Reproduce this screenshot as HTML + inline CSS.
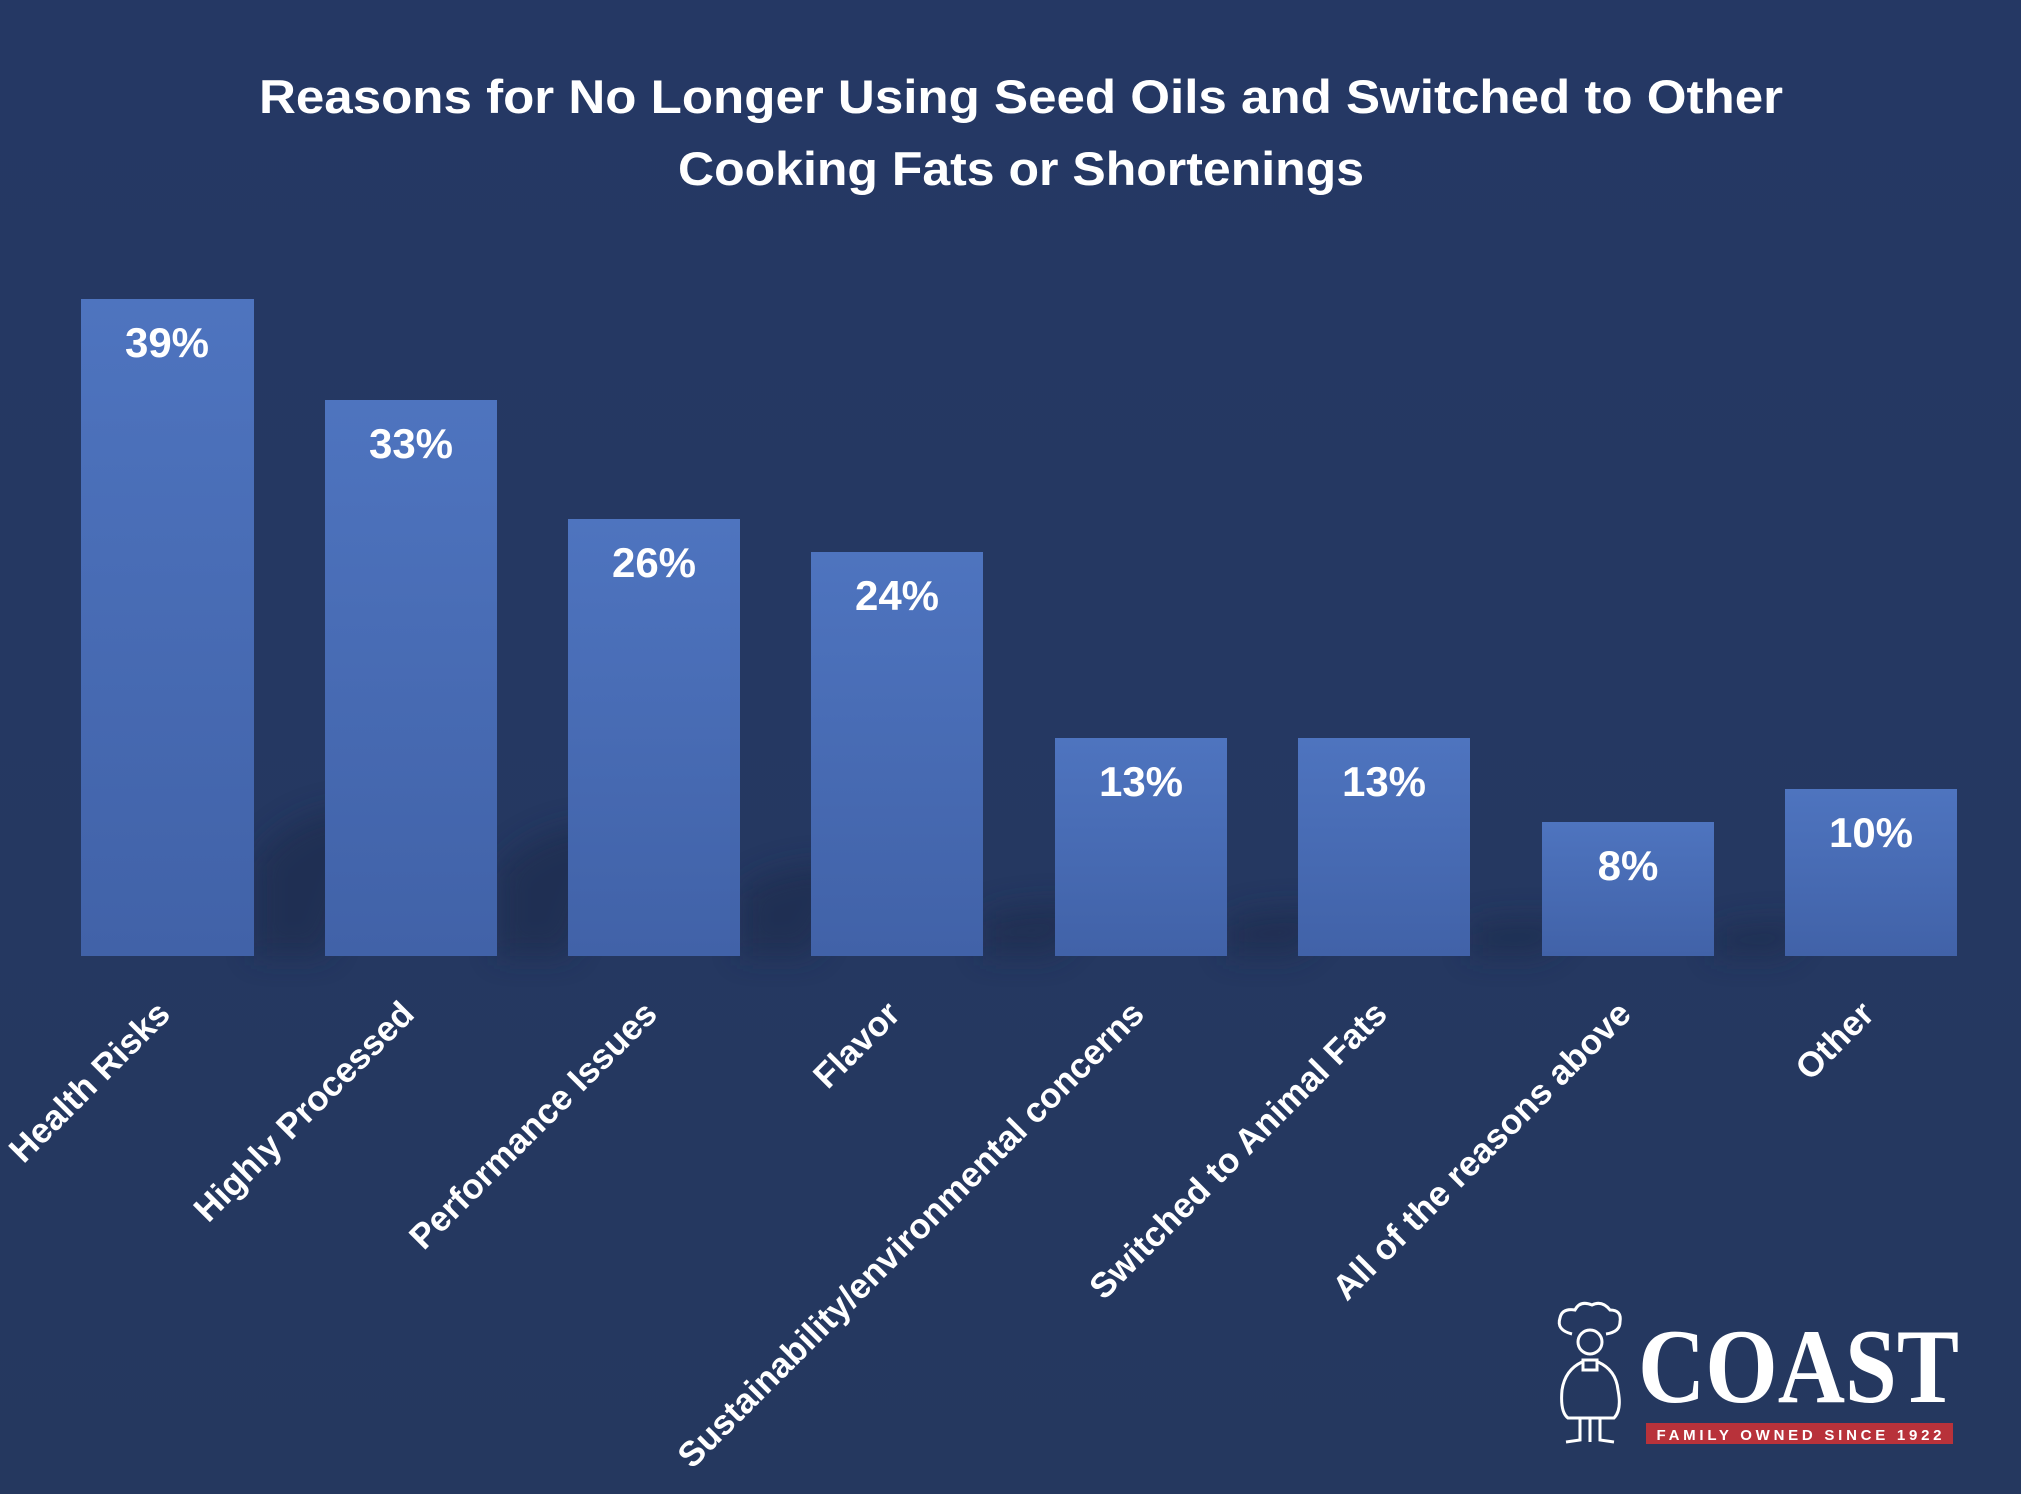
<!DOCTYPE html>
<html><head><meta charset="utf-8"><style>
html,body{margin:0;padding:0;background:#253864;}
svg{display:block;}
</style></head><body>
<svg width="2021" height="1494" viewBox="0 0 2021 1494" xmlns="http://www.w3.org/2000/svg">
<defs>
<linearGradient id="bg" x1="0" y1="0" x2="0" y2="1"><stop offset="0" stop-color="#253864"/><stop offset="1" stop-color="#25385f"/></linearGradient>
<linearGradient id="bar" x1="0" y1="0" x2="0" y2="1"><stop offset="0" stop-color="#4e74bf"/><stop offset="1" stop-color="#4162a8"/></linearGradient>
<filter id="blur" x="-20%" y="-50%" width="140%" height="200%"><feGaussianBlur stdDeviation="14"/></filter>
</defs>
<rect width="2021" height="1494" fill="url(#bg)"/>
<g font-family="Liberation Sans, sans-serif" font-weight="bold" fill="#fff" text-anchor="middle">
<text x="1021" y="113" font-size="47" textLength="1524" lengthAdjust="spacingAndGlyphs">Reasons for No Longer Using Seed Oils and Switched to Other</text>
<text x="1021" y="185" font-size="47" textLength="686" lengthAdjust="spacingAndGlyphs">Cooking Fats or Shortenings</text>
</g>
<g fill="#1c2a4c" opacity="0.6" filter="url(#blur)">
<path d="M254 956 L254 860 Q300 800 380 810 L325 956Z"/>
<path d="M497 956 L497 870 Q540 820 620 825 L568 956Z"/>
<path d="M740 956 L740 890 Q780 860 860 865 L811 956Z"/>
<path d="M983 956 L983 915 Q1020 900 1100 905 L1054 956Z"/>
<path d="M1226 956 L1226 920 Q1260 905 1340 910 L1298 956Z"/>
<path d="M1470 956 L1470 925 Q1500 915 1580 920 L1542 956Z"/>
<path d="M1714 956 L1714 930 Q1740 920 1810 922 L1785 956Z"/>
</g>
<g fill="url(#bar)">
<rect x="81" y="299" width="173" height="657"/>
<rect x="325" y="400" width="172" height="556"/>
<rect x="568" y="519" width="172" height="437"/>
<rect x="811" y="552" width="172" height="404"/>
<rect x="1055" y="738" width="172" height="218"/>
<rect x="1298" y="738" width="172" height="218"/>
<rect x="1542" y="822" width="172" height="134"/>
<rect x="1785" y="789" width="172" height="167"/>
</g>
<g font-family="Liberation Sans, sans-serif" font-weight="bold" fill="#fff" text-anchor="middle" font-size="42">
<text x="167" y="357">39%</text>
<text x="411" y="458">33%</text>
<text x="654" y="577">26%</text>
<text x="897" y="610">24%</text>
<text x="1141" y="796">13%</text>
<text x="1384" y="796">13%</text>
<text x="1628" y="880">8%</text>
<text x="1871" y="847">10%</text>
</g>
<g font-family="Liberation Sans, sans-serif" font-weight="bold" fill="#fff" text-anchor="end" font-size="35">
<text transform="translate(172,1016) rotate(-45)">Health Risks</text>
<text transform="translate(416,1016) rotate(-45)">Highly Processed</text>
<text transform="translate(659,1016) rotate(-45)">Performance Issues</text>
<text transform="translate(902,1016) rotate(-45)">Flavor</text>
<text transform="translate(1146,1016) rotate(-45)">Sustainability/environmental concerns</text>
<text transform="translate(1389,1016) rotate(-45)">Switched to Animal Fats</text>
<text transform="translate(1633,1016) rotate(-45)">All of the reasons above</text>
<text transform="translate(1876,1016) rotate(-45)">Other</text>
</g>
<text x="1638" y="1402" font-family="Liberation Serif, serif" font-weight="bold" font-size="106" fill="#fff" textLength="321" lengthAdjust="spacingAndGlyphs">COAST</text>
<rect x="1646" y="1423" width="307" height="21" fill="#b8323a"/>
<text x="1799" y="1440" font-family="Liberation Sans, sans-serif" font-weight="bold" font-size="15" fill="#fff" text-anchor="middle" textLength="285" lengthAdjust="spacing">FAMILY OWNED SINCE 1922</text>
<g fill="none" stroke="#fff" stroke-width="3">
<path d="M1572 1334 Q1556 1330 1560 1318 Q1562 1308 1575 1310 Q1580 1300 1592 1305 Q1602 1300 1610 1310 Q1622 1310 1620 1322 Q1620 1332 1606 1334"/>
<circle cx="1590" cy="1342" r="12"/>
<path d="M1582 1362 Q1565 1370 1562 1390 Q1560 1412 1568 1418 L1614 1418 Q1622 1410 1618 1390 Q1616 1370 1598 1362"/>
<rect x="1583" y="1360" width="14" height="10"/>
<path d="M1580 1418 L1580 1440 L1566 1442 M1600 1418 L1600 1440 L1614 1442 M1590 1418 L1590 1442"/>
</g>
</svg>
</body></html>
